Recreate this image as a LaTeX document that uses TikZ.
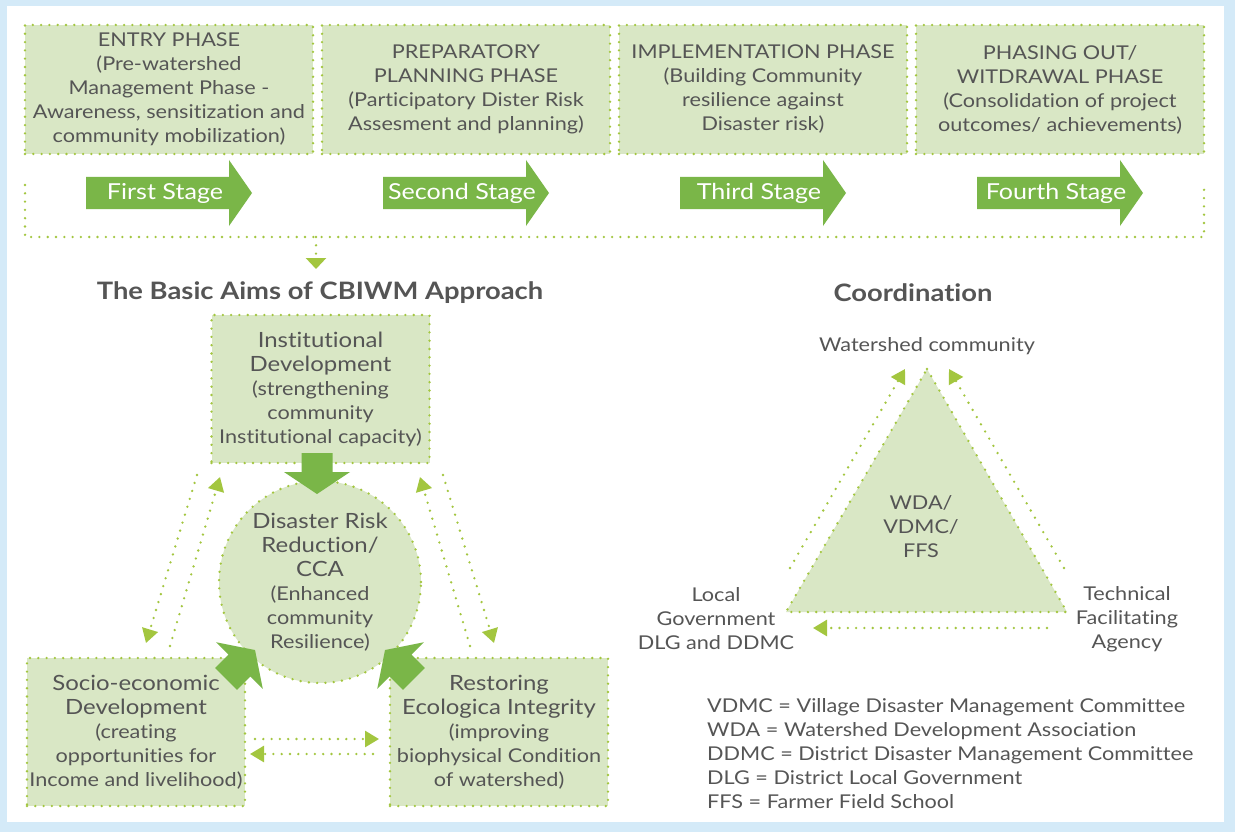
\documentclass[tikz,border=0pt]{standalone}
\usepackage{fontspec}
\setmainfont{Lato}[FakeStretch=1.14, Ligatures={NoCommon}]
\usetikzlibrary{arrows.meta}
\definecolor{bgblue}{HTML}{D4EAF8}
\definecolor{boxfill}{HTML}{D9E7C5}
\definecolor{dotgreen}{HTML}{A3C63F}
\definecolor{arrowgreen}{HTML}{7AB648}
\definecolor{txt}{HTML}{555555}
\newcommand\bigline{\fontsize{21}{26}\selectfont}
\newcommand\stagearrow[3]{%
  \fill[arrowgreen] (#1,177) -- (#1+143,177) -- (#1+143,160) -- (#1+166,193)
    -- (#1+143,226) -- (#1+143,209) -- (#1,209) -- cycle;
  \node[stagetext] (#2) at (#1+79,193) {#3};}
\newcommand\bigarrow[3]{%
  \begin{scope}[shift={(#1,#2)},rotate=#3]
  \fill[arrowgreen] (0,0) -- (-22,33) -- (-22,15.5) -- (-41,15.5) -- (-41,-15.5)
    -- (-22,-15.5) -- (-22,-33) -- cycle;
  \end{scope}}
\tikzset{
  dotline/.style={draw=dotgreen, line width=2.6pt, line cap=round, dash pattern=on 0pt off 8.3pt},
  dotarrow/.style={dotline, -{Triangle[length=14pt,width=16pt]}},
  bodytext/.style={text=txt, font=\fontsize{19}{24}\selectfont, align=center, inner sep=0pt},
  phasebox/.style={bodytext, fill=boxfill, dotline, minimum width=288pt, minimum height=129pt},
  aimbox/.style={bodytext, fill=boxfill, dotline, minimum width=218pt, minimum height=148pt},
  stagetext/.style={text=white, font=\fontsize{22}{26}\selectfont, inner sep=0pt},
  titletext/.style={text=txt, font=\fontsize{24}{28}\selectfont\bfseries, inner sep=0pt},
}
\begin{document}
\begin{tikzpicture}[x=1pt,y=-1pt]
\useasboundingbox (0,0) rectangle (1235,832);
\fill[bgblue] (0,0) rectangle (1235,832);
\fill[white] (7,6) rectangle (1224,822);

% phase boxes
\node[phasebox] (p1) at (169,89.5) {ENTRY PHASE\\(Pre-watershed\\Management Phase -\\Awareness, sensitization and\\community mobilization)};
\node[phasebox] (p2) at (466,89.5) {PREPARATORY\\PLANNING PHASE\\(Participatory Dister Risk\\Assesment and planning)};
\node[phasebox] (p3) at (763,89.5) {IMPLEMENTATION PHASE\\(Building Community\\resilience against\\Disaster risk)};
\node[phasebox] (p4) at (1060,89.5) {PHASING OUT/\\WITDRAWAL PHASE\\(Consolidation of project\\outcomes/ achievements)};

% stage arrows
\stagearrow{86}{s1}{First Stage}
\stagearrow{383}{s2}{Second Stage}
\stagearrow{680}{s3}{Third Stage}
\stagearrow{977}{s4}{Fourth Stage}

% bracket
\coordinate (bl) at (25,185);
\coordinate (br) at (1204,185);
\coordinate (bk) at (316,237);
\draw[dotline] (bl) -- (25,237) -- (1204,237) -- (br);
\node[titletext] (aims) at (320,293) {The Basic Aims of CBIWM Approach};
\coordinate (aimtop) at (316,269);
\draw[dotline, -{Triangle[length=11pt,width=20pt]}] (bk) -- (aimtop);

\node[titletext] (coord) at (913,293) {Coordination};

% aims
\node[aimbox] (inst) at (320.5,389) {{\bigline Institutional}\\{\bigline Development}\\(strengthening\\community\\Institutional capacity)};
\node[aimbox] (socio) at (136,732) {{\bigline Socio-economic}\\{\bigline Development}\\(creating\\opportunities for\\Income and livelihood)};
\node[aimbox] (eco) at (499,732) {{\bigline Restoring}\\{\bigline Ecologica Integrity}\\(improving\\biophysical Condition\\of watershed)};
\node[circle, fill=boxfill, dotline, minimum size=202pt, inner sep=0pt] (drr) at (320,582) {};
\node[bodytext] (drrtext) at (drr.center) {{\bigline Disaster Risk}\\{\bigline Reduction/}\\{\bigline CCA}\\(Enhanced\\community\\Resilience)};

\bigarrow{317}{494}{-90}
\bigarrow{255}{650}{45}
\bigarrow{385}{650}{135}

% dotted arrows between aims
\coordinate (lo1) at (197,475); \coordinate (lo2) at (146,643);
\coordinate (li1) at (170,646); \coordinate (li2) at (220,477);
\coordinate (ro1) at (443,475); \coordinate (ro2) at (494,643);
\coordinate (ri1) at (470,646); \coordinate (ri2) at (420,477);
\draw[dotarrow] (lo1) -- (lo2);
\draw[dotarrow] (li1) -- (li2);
\draw[dotarrow] (ro1) -- (ro2);
\draw[dotarrow] (ri1) -- (ri2);
\coordinate (sr1) at (255,739); \coordinate (sr2) at (379,739);
\coordinate (rs1) at (373,754); \coordinate (rs2) at (250,754);
\draw[dotarrow] (sr1) -- (sr2);
\draw[dotarrow] (rs1) -- (rs2);

% coordination triangle
\coordinate (ta) at (927,369);
\coordinate (tl) at (786,612);
\coordinate (tr) at (1067,612);
\filldraw[fill=boxfill, dotline] (ta) -- (tr) -- (tl) -- cycle;
\node[bodytext] (wda) at (921,527) {WDA/\\VDMC/\\FFS};
\node[bodytext] (wc) at (927,346) {Watershed community};
\node[bodytext] (lg) at (716,619) {Local\\Government\\DLG and DDMC};
\node[bodytext] (tfa) at (1127,619) {Technical\\Facilitating\\Agency};
\coordinate (tl1) at (790,568); \coordinate (tl2) at (905,369);
\coordinate (tr1) at (1064,568); \coordinate (tr2) at (949,369);
\coordinate (tb1) at (1047,628); \coordinate (tb2) at (813,628);
\draw[dotarrow] (tl1) -- (tl2);
\draw[dotarrow] (tr1) -- (tr2);
\draw[dotarrow] (tb1) -- (tb2);

% legend
\node[bodytext, align=left, anchor=west] (legend) at (707,754) {VDMC = Village Disaster Management Committee\\WDA = Watershed Development Association\\DDMC = District Disaster Management Committee\\DLG = District Local Government\\FFS = Farmer Field School};
\end{tikzpicture}
\end{document}
